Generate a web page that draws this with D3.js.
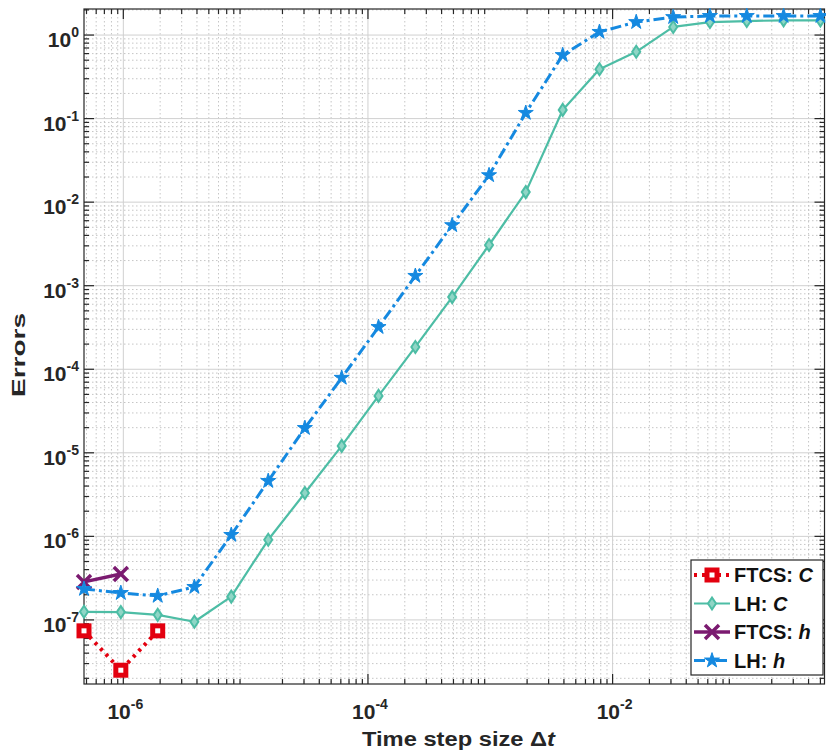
<!DOCTYPE html>
<html lang="en">
<head>
<meta charset="UTF-8" />
<style>
  body { margin: 0; background: #fff; }
  text { font-family: "Liberation Sans", Arial, sans-serif; font-weight: bold; }
</style>
</head>
<body>
<svg id="chart" width="826" height="756"></svg>
<script src="https://d3js.org/d3.v7.min.js"></script>
<script>
// time step sizes (halving from 2^-21 to 2^-1)
var dt = [4.77e-7, 9.54e-7, 1.91e-6, 3.81e-6, 7.63e-6, 1.53e-5, 3.05e-5, 6.10e-5,
          1.22e-4, 2.44e-4, 4.88e-4, 9.77e-4, 1.95e-3, 3.91e-3, 7.81e-3, 1.56e-2,
          3.13e-2, 6.25e-2, 0.125, 0.25, 0.5];

var ftcsC = [7.4e-8, 2.5e-8, 7.4e-8];
var lhC = [1.25e-7, 1.24e-7, 1.15e-7, 9.5e-8, 1.9e-7, 9.1e-7, 3.3e-6, 1.21e-5,
           4.8e-5, 1.85e-4, 7.3e-4, 3.07e-3, 1.32e-2, 0.127, 0.39, 0.63,
           1.25, 1.43, 1.47, 1.5, 1.5];
var ftcsH = [2.85e-7, 3.55e-7];
var lhH = [2.35e-7, 2.1e-7, 1.94e-7, 2.48e-7, 1.04e-6, 4.6e-6, 1.98e-5, 7.9e-5,
           3.2e-4, 1.31e-3, 5.3e-3, 2.1e-2, 0.117, 0.576, 1.09, 1.43,
           1.64, 1.69, 1.69, 1.69, 1.69];

var xMajor = [-6, -4, -2];
var yMajor = [0, -1, -2, -3, -4, -5, -6, -7];

var svg = d3.select("#chart");
var pLeft = 84, pRight = 824.5, pTop = 9, pBottom = 684;

var x = d3.scaleLog().domain([4.77e-7, 0.54]).range([pLeft, pRight]);
var y = d3.scaleLog().domain([1.71e-8, 2.05]).range([pBottom, pTop]);

// grid
var grid = svg.append("g");
var xMinor = [], yMinor = [];
for (var e = -7; e <= 0; e++) {
  for (var m = 2; m <= 9; m++) {
    var v = m * Math.pow(10, e);
    if (v > x.domain()[0] && v < x.domain()[1]) xMinor.push(v);
  }
}
for (var e = -8; e <= 0; e++) {
  for (var m = 2; m <= 9; m++) {
    var v = m * Math.pow(10, e);
    if (v > y.domain()[0] && v < y.domain()[1]) yMinor.push(v);
  }
}
grid.selectAll(".xm").data(xMinor).enter().append("line")
  .attr("x1", d => x(d)).attr("x2", d => x(d)).attr("y1", pTop).attr("y2", pBottom)
  .attr("stroke", "#b8b8b8").attr("stroke-width", 0.8).attr("stroke-dasharray", "1.5,2.5");
grid.selectAll(".ym").data(yMinor).enter().append("line")
  .attr("y1", d => y(d)).attr("y2", d => y(d)).attr("x1", pLeft).attr("x2", pRight)
  .attr("stroke", "#b8b8b8").attr("stroke-width", 0.8).attr("stroke-dasharray", "1.5,2.5");
grid.selectAll(".xM").data(xMajor).enter().append("line")
  .attr("x1", d => x(Math.pow(10, d))).attr("x2", d => x(Math.pow(10, d)))
  .attr("y1", pTop).attr("y2", pBottom).attr("stroke", "#d0d0d0").attr("stroke-width", 1);
grid.selectAll(".yM").data(yMajor).enter().append("line")
  .attr("y1", d => y(Math.pow(10, d))).attr("y2", d => y(Math.pow(10, d)))
  .attr("x1", pLeft).attr("x2", pRight).attr("stroke", "#d0d0d0").attr("stroke-width", 1);

// ticks (inside, all four sides)
var ticks = svg.append("g").attr("stroke", "#262626").attr("stroke-width", 1.2);
xMinor.forEach(function (d) {
  ticks.append("line").attr("x1", x(d)).attr("x2", x(d)).attr("y1", pBottom).attr("y2", pBottom - 5);
  ticks.append("line").attr("x1", x(d)).attr("x2", x(d)).attr("y1", pTop).attr("y2", pTop + 5);
});
xMajor.forEach(function (d) {
  var p = x(Math.pow(10, d));
  ticks.append("line").attr("x1", p).attr("x2", p).attr("y1", pBottom).attr("y2", pBottom - 10);
  ticks.append("line").attr("x1", p).attr("x2", p).attr("y1", pTop).attr("y2", pTop + 10);
});
yMinor.forEach(function (d) {
  ticks.append("line").attr("y1", y(d)).attr("y2", y(d)).attr("x1", pLeft).attr("x2", pLeft + 5);
  ticks.append("line").attr("y1", y(d)).attr("y2", y(d)).attr("x1", pRight).attr("x2", pRight - 5);
});
yMajor.forEach(function (d) {
  var p = y(Math.pow(10, d));
  ticks.append("line").attr("y1", p).attr("y2", p).attr("x1", pLeft).attr("x2", pLeft + 10);
  ticks.append("line").attr("y1", p).attr("y2", p).attr("x1", pRight).attr("x2", pRight - 10);
});

// frame
svg.append("rect").attr("x", pLeft).attr("y", pTop).attr("width", pRight - pLeft).attr("height", pBottom - pTop)
  .attr("fill", "none").attr("stroke", "#262626").attr("stroke-width", 1.2);

// tick labels
function powLabel(g, px, py, exp, anchor) {
  var t = g.append("text").attr("x", px).attr("y", py).attr("text-anchor", anchor)
    .attr("font-size", 21).attr("fill", "#262626");
  t.append("tspan").text("10");
  t.append("tspan").attr("dy", -10).attr("font-size", 14).text(exp);
}
var labels = svg.append("g");
yMajor.forEach(function (d) {
  powLabel(labels, pLeft - 5, y(Math.pow(10, d)) + 12, d, "end");
});
xMajor.forEach(function (d) {
  powLabel(labels, x(Math.pow(10, d)) + 2, 719, d, "middle");
});

// axis titles
var xt = svg.append("text").attr("x", 362).attr("y", 746)
  .attr("font-size", 20).attr("fill", "#262626")
  .attr("textLength", 193).attr("lengthAdjust", "spacingAndGlyphs");
xt.append("tspan").text("Time step size \u0394");
xt.append("tspan").attr("font-style", "italic").text("t");
svg.append("text").attr("transform", "translate(25,355) rotate(-90)").attr("text-anchor", "middle")
  .attr("font-size", 19).attr("fill", "#262626")
  .attr("textLength", 84).attr("lengthAdjust", "spacingAndGlyphs").text("Errors");

// series
var series = [
  { name: "FTCS: ", sub: "C", vals: ftcsC, color: "#e3000f", width: 4, dash: "3,5", marker: "square" },
  { name: "LH: ", sub: "C", vals: lhC, color: "#4dbda5", width: 2.2, dash: null, marker: "diamond" },
  { name: "FTCS: ", sub: "h", vals: ftcsH, color: "#7b1a70", width: 3.5, dash: null, marker: "x" },
  { name: "LH: ", sub: "h", vals: lhH, color: "#1589e0", width: 3, dash: "11,4,3,4", marker: "star" }
];

var line = d3.line().x(d => x(d[0])).y(d => y(d[1]));

function drawMarker(g, kind, color, px, py) {
  if (kind === "square") {
    g.append("rect").attr("x", px - 5).attr("y", py - 5).attr("width", 10).attr("height", 10)
      .attr("fill", "#fff").attr("stroke", color).attr("stroke-width", 5);
  } else if (kind === "diamond") {
    g.append("path").attr("transform", "translate(" + px + "," + py + ")")
      .attr("d", "M0,-6L4,0L0,6L-4,0Z").attr("fill", "#8fd6c6").attr("stroke", color).attr("stroke-width", 2);
  } else if (kind === "x") {
    g.append("path").attr("transform", "translate(" + px + "," + py + ")")
      .attr("d", "M-7,-7L7,7M-7,7L7,-7").attr("stroke", color).attr("stroke-width", 3.5);
  } else {
    g.append("path").attr("transform", "translate(" + px + "," + py + ")")
      .attr("d", d3.symbol().type(d3.symbolStar).size(70)()).attr("fill", color).attr("stroke", color).attr("stroke-width", 1);
  }
}

series.forEach(function (s) {
  var pts = s.vals.map((v, i) => [dt[i], v]);
  svg.append("path").datum(pts).attr("d", line).attr("fill", "none")
    .attr("stroke", s.color).attr("stroke-width", s.width)
    .attr("stroke-dasharray", s.dash).attr("stroke-linejoin", "round");
  var mg = svg.append("g");
  pts.forEach(p => drawMarker(mg, s.marker, s.color, x(p[0]), y(p[1])));
});

// legend
var lg = svg.append("g");
lg.append("rect").attr("x", 691).attr("y", 560).attr("width", 132).attr("height", 115)
  .attr("fill", "#fff").attr("stroke", "#262626").attr("stroke-width", 1.2);
series.forEach(function (s, i) {
  var ly = 575 + i * 28.5;
  lg.append("line").attr("x1", 694).attr("x2", 730).attr("y1", ly).attr("y2", ly)
    .attr("stroke", s.color).attr("stroke-width", s.width).attr("stroke-dasharray", s.dash);
  drawMarker(lg, s.marker, s.color, 712, ly);
  var t = lg.append("text").attr("x", 734).attr("y", ly + 7).attr("font-size", 20).attr("fill", "#111");
  t.append("tspan").text(s.name);
  t.append("tspan").attr("font-style", "italic").text(s.sub);
});
</script>
</body>
</html>
